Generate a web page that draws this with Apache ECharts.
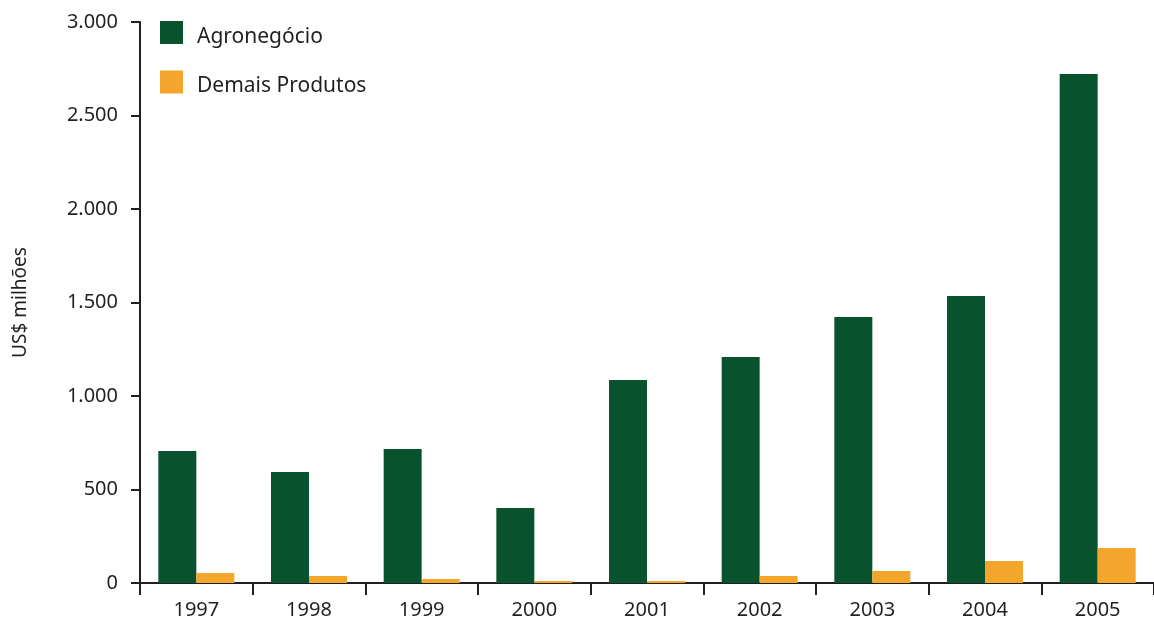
<!DOCTYPE html>
<html>
<head>
<meta charset="utf-8">
<script src="https://cdn.jsdelivr.net/npm/echarts@6/dist/echarts.min.js"></script>
<style>html,body{margin:0;padding:0;background:#fff}#c{width:1154px;height:624px}</style>
</head>
<body>
<div id="c"></div>
<script>
const categories = ['1997','1998','1999','2000','2001','2002','2003','2004','2005'];
const agronegocio = [706, 594, 717, 401, 1086, 1209, 1422, 1535, 2722];
const demais = [53, 37, 21, 11, 11, 37, 64, 118, 187];
const seriesNames = ['Agronegócio', 'Demais Produtos'];
const yTicks = [0, 500, 1000, 1500, 2000, 2500, 3000];

const ink = '#231f20';
const font = 'Noto Sans';
const chart = echarts.init(document.getElementById('c'));
chart.setOption({
  animation: false,
  textStyle: { fontFamily: font },
  grid: { left: 140, right: -6, top: 22, bottom: 41, containLabel: false },
  legend: {
    orient: 'vertical', left: 160, top: 21, padding: 0,
    itemWidth: 23, itemHeight: 23, itemGap: 23,
    icon: 'rect',
    formatter: '{t|{name}}',
    textStyle: {
      fontSize: 21, color: ink, fontFamily: font, padding: [0, 0, 0, 9],
      rich: { t: { fontSize: 21, color: ink, fontFamily: font, padding: [9, 0, 0, 0] } }
    },
    data: seriesNames
  },
  xAxis: {
    type: 'category', data: categories, boundaryGap: true,
    axisLine: { lineStyle: { color: ink, width: 2 } },
    axisTick: { show: true, length: 12, lineStyle: { color: ink, width: 2 } },
    axisLabel: { fontSize: 20, color: ink, margin: 17, fontFamily: font }
  },
  yAxis: {
    type: 'value', min: 0, max: 3000, interval: 500,
    name: 'US$ milhões', nameLocation: 'middle', nameGap: 110, nameRotate: 90,
    nameTextStyle: { fontSize: 19, color: ink, fontFamily: font },
    splitLine: { show: false },
    axisLine: { show: true, lineStyle: { color: ink, width: 2 } },
    axisTick: { show: true, length: 9, lineStyle: { color: ink, width: 2 } },
    axisLabel: {
      fontSize: 20, color: ink, margin: 22, fontFamily: font,
      formatter: v => yTicks.includes(v) ? v.toLocaleString('de-DE') : ''
    }
  },
  series: [
    { name: seriesNames[0], type: 'bar', data: agronegocio, barWidth: 38, barGap: '0%', itemStyle: { color: '#08532e' } },
    { name: seriesNames[1], type: 'bar', data: demais, barWidth: 38, barGap: '0%', itemStyle: { color: '#f4a52c' } }
  ]
});
</script>
</body>
</html>
